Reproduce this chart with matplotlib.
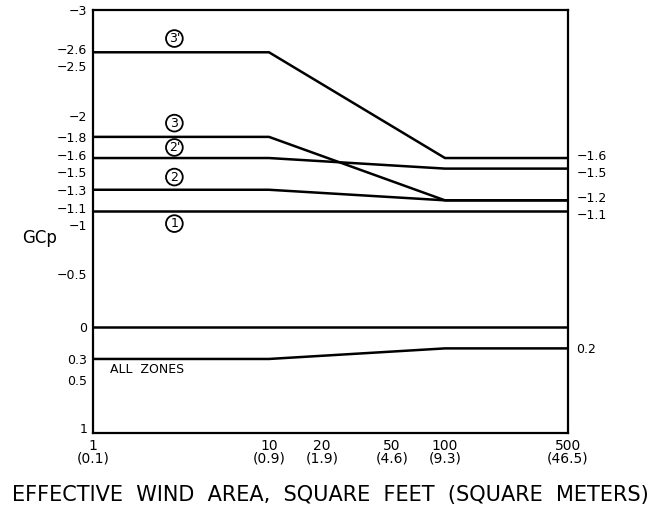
import matplotlib
matplotlib.use("Agg")
import matplotlib.pyplot as plt
import matplotlib.transforms as mtransforms
from matplotlib.ticker import FixedLocator, NullFormatter

# effective wind area breakpoints (sq ft)
area = [1, 10, 100, 500]

# GCp for each zone curve
zone_3p = [-2.6, -2.6, -1.6, -1.6]
zone_3 = [-1.8, -1.8, -1.2, -1.2]
zone_2p = [-1.6, -1.6, -1.5, -1.5]
zone_2 = [-1.3, -1.3, -1.2, -1.2]
zone_1 = [-1.1, -1.1, -1.1, -1.1]
zero_line = [0, 0, 0, 0]
all_zones = [0.3, 0.3, 0.2, 0.2]

left_ticks = [-3, -2.6, -2.5, -2, -1.8, -1.6, -1.5, -1.3, -1.1, -1, -0.5, 0, 0.3, 0.5, 1]
left_labels = ["\u22123", "\u22122.6", "\u22122.5", "\u22122", "\u22121.8", "\u22121.6", "\u22121.5",
               "\u22121.3", "\u22121.1", "\u22121", "\u22120.5", "0", "0.3", "0.5", "1"]
right_ticks = [-1.6, -1.5, -1.2, -1.1, 0.2]
right_labels = ["\u22121.6", "\u22121.5", "\u22121.2", "\u22121.1", "0.2"]
mark_ticks = [-2.5, -2, -1.5, -1, -0.5, 0.5]

x_ticks = [1, 10, 20, 50, 100, 500]
x_labels = ["1\n(0.1)", "10\n(0.9)", "20\n(1.9)", "50\n(4.6)", "100\n(9.3)", "500\n(46.5)"]
x_marks = [10, 20, 50, 100]

zone_tags = ["3'", "3", "2'", "2", "1"]
tag_y = [-2.73, -1.93, -1.70, -1.42, -0.98]

fig = plt.figure(figsize=(6.61, 5.17), dpi=100)
ax = fig.add_axes([0.1407, 0.1625, 0.7186, 0.8182])

for series in [zone_3p, zone_3, zone_2p, zone_2, zone_1, zero_line, all_zones]:
    ax.plot(area, series, color="black", lw=1.8, solid_capstyle="butt")

ax.set_xscale("log")
ax.set_xlim(1, 500)
ax.set_ylim(1, -3)

ax.xaxis.set_major_locator(FixedLocator(x_ticks))
ax.set_xticklabels(x_labels, fontsize=10, linespacing=0.95)
ax.xaxis.set_minor_locator(FixedLocator(x_marks))
ax.xaxis.set_minor_formatter(NullFormatter())

ax.yaxis.set_major_locator(FixedLocator(left_ticks))
ax.set_yticklabels(left_labels, fontsize=9)
ax.yaxis.set_minor_locator(FixedLocator(mark_ticks))

ax.tick_params(which="major", length=0, pad=4)
ax.tick_params(which="minor", direction="in", length=7, width=1.6,
               top=True, right=True, bottom=True, left=True)
for s in ax.spines.values():
    s.set_linewidth(1.6)

sec = ax.secondary_yaxis("right")
sec.yaxis.set_major_locator(FixedLocator(right_ticks))
sec.set_yticklabels(right_labels, fontsize=9)
sec.tick_params(length=0, pad=6)
sec.spines["right"].set_visible(False)

# nudge the crowded label pairs apart a little, like the drawing does
def nudge(label, pts):
    label.set_transform(label.get_transform() +
                        mtransforms.ScaledTranslation(0, pts / 72, fig.dpi_scale_trans))

up_left = {"\u22122.6", "\u22121.6", "\u22121.1"}
down_left = {"\u22122.5", "\u22121.5", "\u22121"}
for lab in ax.get_yticklabels():
    if lab.get_text() in up_left:
        nudge(lab, 2.2)
    elif lab.get_text() in down_left:
        nudge(lab, -2.2)
    elif lab.get_text() == "1":
        nudge(lab, 3.5)
for lab in sec.get_yticklabels():
    if lab.get_text() in ("\u22121.6", "\u22121.2"):
        nudge(lab, 2.2)
    elif lab.get_text() in ("\u22121.5", "\u22121.1"):
        nudge(lab, -2.2)

for tag, yv in zip(zone_tags, tag_y):
    ax.text(2.9, yv, tag, fontsize=9, ha="center", va="center",
            bbox=dict(boxstyle="circle,pad=0.15", fc="white", ec="black", lw=1.3))

ax.text(1.25, 0.40, "ALL  ZONES", fontsize=9, ha="left", va="center")
fig.text(0.033, 0.54, "GCp", fontsize=12, ha="left", va="center")
fig.text(0.5, 0.042, "EFFECTIVE  WIND  AREA,  SQUARE  FEET  (SQUARE  METERS)",
         fontsize=15, ha="center", va="center")

fig.savefig("out.png", dpi=100)
